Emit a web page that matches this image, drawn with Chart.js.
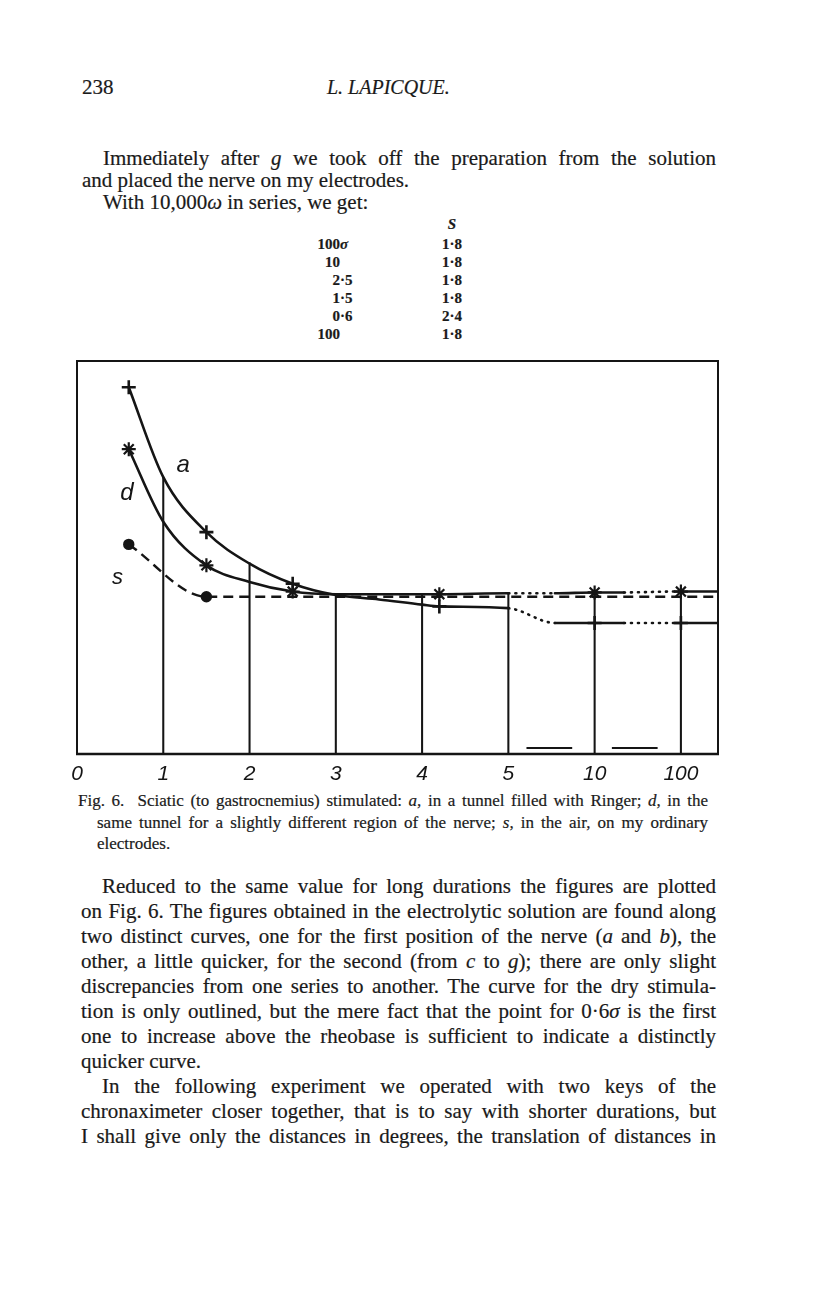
<!DOCTYPE html>
<html>
<head>
<meta charset="utf-8">
<script src="https://cdn.jsdelivr.net/npm/chart.js@4.4.1/dist/chart.umd.min.js"></script>
<style>
  body { margin: 0; background: #fff; }
  #page { position: relative; width: 816px; height: 1296px; font-family: "Liberation Serif", serif; color: #1a1a1a; overflow: hidden; -webkit-text-stroke: 0.2px #1a1a1a; }
  .abs { position: absolute; }
  .just { text-align: justify; text-align-last: justify; }
  .ind { text-indent: 21px; }
  .hang { position: absolute; }
</style>
</head>
<body>
<div id="page">
  <div class="abs" style="left:82px; top:76px; font-size:21px; line-height:22px">238</div>
  <div class="abs" style="left:327px; top:76px; font-size:20px; line-height:22px; font-style:italic">L. LAPICQUE.</div>

  <div class="abs" style="left:82px; top:147px; width:634px; font-size:21px; line-height:22px">
    <div class="just ind">Immediately after <i>g</i> we took off the preparation from the solution</div>
    <div>and placed the nerve on my electrodes.</div>
    <div class="ind">With 10,000<i>ω</i> in series, we get:</div>
  </div>

  <div class="abs" style="left:290px; top:235px; width:50px; font-size:15px; line-height:18px; text-align:right; font-weight:bold">
    <div>100<span class="hang"><i>σ</i></span></div>
    <div>10</div>
    <div>2<span class="hang">·5</span></div>
    <div>1<span class="hang">·5</span></div>
    <div>0<span class="hang">·6</span></div>
    <div>100</div>
  </div>
  <div class="abs" style="left:422px; top:215px; width:60px; font-size:15px; line-height:18px; text-align:center; font-weight:bold">
    <div><i>S</i></div>
  </div>
  <div class="abs" style="left:422px; top:235px; width:60px; font-size:15px; line-height:18px; text-align:center; font-weight:bold">
    <div>1·8</div><div>1·8</div><div>1·8</div><div>1·8</div><div>2·4</div><div>1·8</div>
  </div>

  <canvas id="myChart" width="701" height="449" style="position:absolute; left:47px; top:341px"></canvas>

  <div class="abs" style="left:78px; top:790px; width:630px; font-size:17px; line-height:21.5px">
    <div class="just">Fig. 6.&nbsp; Sciatic (to gastrocnemius) stimulated: <i>a</i>, in a tunnel filled with Ringer; <i>d</i>, in the</div>
    <div class="just" style="padding-left:19px">same tunnel for a slightly different region of the nerve; <i>s</i>, in the air, on my ordinary</div>
    <div style="padding-left:19px">electrodes.</div>
  </div>

  <div class="abs" style="left:81px; top:874px; width:635px; font-size:21px; line-height:25px">
    <div class="just ind">Reduced to the same value for long durations the figures are plotted</div>
    <div class="just">on Fig. 6. The figures obtained in the electrolytic solution are found along</div>
    <div class="just">two distinct curves, one for the first position of the nerve (<i>a</i> and <i>b</i>), the</div>
    <div class="just">other, a little quicker, for the second (from <i>c</i> to <i>g</i>); there are only slight</div>
    <div class="just">discrepancies from one series to another. The curve for the dry stimula-</div>
    <div class="just">tion is only outlined, but the mere fact that the point for 0·6<i>σ</i> is the first</div>
    <div class="just">one to increase above the rheobase is sufficient to indicate a distinctly</div>
    <div>quicker curve.</div>
    <div class="just ind">In the following experiment we operated with two keys of the</div>
    <div class="just">chronaximeter closer together, that is to say with shorter durations, but</div>
    <div class="just">I shall give only the distances in degrees, the translation of distances in</div>
  </div>
</div>

<script>
// x axis: equal steps for 0..5, then 10 and 100 (positions 6 and 7)
const tickPos = [0, 1, 2, 3, 4, 5, 6, 7]
const tickLabels = ['0', '1', '2', '3', '4', '5', '10', '100']

// a: tunnel with Ringer
const aX = [0.6, 1, 1.5, 2, 2.5, 3, 3.5, 4, 4.2, 5, 5.54, 6, 6.34, 6.93, 7, 7.43]
const aY = [4.2, 3.17, 2.54, 2.18, 1.95, 1.82, 1.77, 1.71, 1.69, 1.67, 1.5, 1.5, 1.5, 1.5, 1.5, 1.5]
const aMarks = [0.6, 1.5, 2.5, 4.2, 6, 7]

// d: same tunnel, other region
const dX = [0.6, 1, 1.5, 2, 2.5, 3, 4.2, 5, 5.54, 6, 6.34, 6.93, 7, 7.43]
const dY = [3.49, 2.66, 2.16, 1.97, 1.86, 1.83, 1.83, 1.84, 1.84, 1.85, 1.85, 1.86, 1.86, 1.86]
const dMarks = [0.6, 1.5, 2.5, 4.2, 6, 7]

// s: in air (table values)
const sX = [0.6, 1.5, 2.5, 6, 7, 7.43]
const sY = [2.4, 1.8, 1.8, 1.8, 1.8, 1.8]
const sMarks = [0.6, 1.5]

// ordinates drawn up to the curves
const dropX = [1, 2, 3, 4, 5, 6, 7]
const dropY = [3.17, 2.19, 1.83, 1.83, 1.85, 1.86, 1.88]

// little break marks on the base line
const breakX = [5.21, 5.74, 5.97, 6.2, 6.73]
const breakY = [0.07, 0.07, null, 0.07, 0.07]

const ink = '#151515'
const gaps = [[5, 5.54], [6.34, 6.93]]
const pts = (xs, ys) => xs.map((x, i) => ({x: x, y: ys[i]}))
const dotted = ctx => {
    const m = (ctx.p0.parsed.x + ctx.p1.parsed.x) / 2
    return gaps.some(g => m > g[0] && m < g[1]) ? [1, 6] : undefined
}

const curveLabels = [
    {text: 'a', x: 1.23, y: 3.31, size: 24},
    {text: 'd', x: 0.58, y: 2.99, size: 24},
    {text: 's', x: 0.47, y: 2.02, size: 22},
]

const framePlugin = {
    id: 'frame',
    afterDatasetsDraw (chart) {
        const {ctx, chartArea: a, scales} = chart
        ctx.save()
        ctx.strokeStyle = ink
        ctx.lineWidth = 2
        ctx.strokeRect(a.left, a.top, a.right - a.left, a.bottom - a.top)
        ctx.lineWidth = 2.6
        ctx.beginPath()
        ctx.moveTo(a.left - 1, a.bottom)
        ctx.lineTo(a.right + 1, a.bottom)
        ctx.stroke()
        ctx.fillStyle = ink
        ctx.textAlign = 'center'
        ctx.textBaseline = 'middle'
        curveLabels.forEach(l => {
            ctx.font = 'italic ' + l.size + 'px "Liberation Sans"'
            ctx.fillText(l.text, scales.x.getPixelForValue(l.x), scales.y.getPixelForValue(l.y))
        })
        ctx.restore()
    }
}

const ctx = document.getElementById('myChart')
new Chart(ctx, {
    type: 'line',
    data: {
        datasets: [{
            type: 'bar',
            data: pts(dropX, dropY),
            backgroundColor: ink,
            barThickness: 1.4,
            grouped: false,
            order: 5,
        }, {
            label: 'a',
            data: pts(aX, aY),
            borderColor: ink,
            borderWidth: 2.6,
            borderCapStyle: 'round',
            cubicInterpolationMode: 'monotone',
            segment: {borderDash: dotted},
            pointStyle: 'cross',
            pointRadius: c => aMarks.includes(c.raw.x) ? 7 : 0,
            pointBorderWidth: 2.6,
            pointBorderColor: ink,
            order: 1,
        }, {
            label: 'd',
            data: pts(dX, dY),
            borderColor: ink,
            borderWidth: 2.6,
            borderCapStyle: 'round',
            cubicInterpolationMode: 'monotone',
            segment: {borderDash: dotted},
            pointStyle: 'star',
            pointRadius: c => dMarks.includes(c.raw.x) ? 7 : 0,
            pointBorderWidth: 2.2,
            pointBorderColor: ink,
            order: 1,
        }, {
            label: 's',
            data: pts(sX, sY),
            borderColor: ink,
            borderWidth: 2.4,
            borderDash: [10, 6],
            cubicInterpolationMode: 'monotone',
            pointStyle: 'circle',
            pointRadius: c => sMarks.includes(c.raw.x) ? 4.5 : 0,
            pointBackgroundColor: ink,
            pointBorderColor: ink,
            order: 1,
        }, {
            label: 'break',
            data: pts(breakX, breakY),
            borderColor: ink,
            borderWidth: 2,
            pointRadius: 0,
            spanGaps: false,
            order: 1,
        }],
    },
    options: {
        responsive: false,
        animation: false,
        events: [],
        layout: {padding: {left: 30, right: 30, top: 20, bottom: 0}},
        plugins: {legend: {display: false}, tooltip: {enabled: false}},
        scales: {
            x: {
                type: 'linear',
                min: 0,
                max: 7.43,
                offset: false,
                grid: {display: false, drawTicks: false},
                border: {display: false},
                afterBuildTicks: s => { s.ticks = tickPos.map(v => ({value: v})) },
                afterFit: s => { s.height = 36 },
                ticks: {
                    padding: 8,
                    color: ink,
                    autoSkip: false,
                    maxRotation: 0,
                    font: {family: '"Liberation Sans"', style: 'italic', size: 21},
                    callback: v => tickLabels[tickPos.indexOf(v)],
                },
            },
            y: {
                display: false,
                min: 0,
                max: 4.5,
            },
        },
    },
    plugins: [framePlugin],
})
</script>
</body>
</html>
